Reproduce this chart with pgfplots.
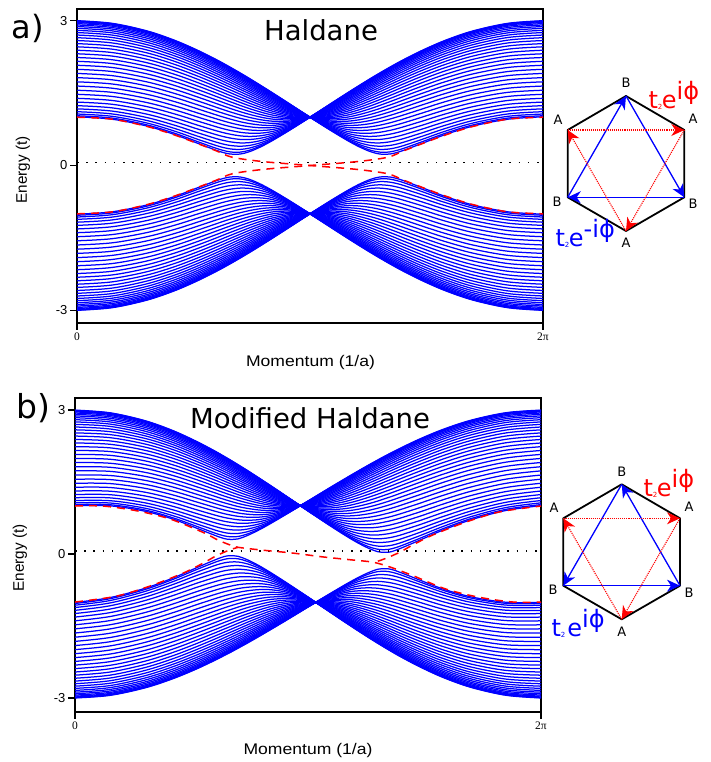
\documentclass[border=0pt]{standalone}
\usepackage{pgfplots}
\pgfplotsset{compat=1.18}
\usepackage{pgfplotstable}
\usepackage{fontspec}
\usetikzlibrary{arrows.meta}
\setmainfont{DejaVu Sans}
\newfontfamily\ser{Liberation Serif}
\newfontfamily\lib{Liberation Sans}
% Panel a: upper band, left half (x in units of pi, one column per line)
\pgfplotstableread{
0 2.998 2.990 2.977 2.960 2.937 2.909 2.877 2.840 2.798 2.752 2.701 2.646 2.587 2.523 2.457 2.386 2.313 2.236 2.157 2.075 1.991 1.906 1.819 1.732 1.645 1.558 1.474 1.391 1.313 1.239 1.173 1.114 1.066 1.030 1.008
0.15 2.944 2.937 2.924 2.907 2.885 2.857 2.825 2.788 2.747 2.701 2.651 2.596 2.538 2.475 2.409 2.339 2.266 2.190 2.111 2.030 1.946 1.861 1.775 1.688 1.601 1.515 1.430 1.347 1.268 1.194 1.127 1.068 1.019 .982 .959
0.3 2.787 2.780 2.767 2.751 2.729 2.702 2.672 2.636 2.596 2.551 2.502 2.449 2.392 2.332 2.267 2.199 2.128 2.054 1.976 1.897 1.815 1.731 1.647 1.560 1.474 1.388 1.303 1.219 1.139 1.063 .993 .932 .880 .841 .817
0.42 2.590 2.583 2.571 2.555 2.534 2.509 2.479 2.445 2.407 2.364 2.317 2.267 2.212 2.154 2.092 2.026 1.958 1.886 1.811 1.734 1.655 1.574 1.490 1.406 1.321 1.235 1.150 1.066 .984 .906 .832 .766 .710 .666 .639
0.52 2.380 2.373 2.362 2.347 2.327 2.304 2.276 2.243 2.207 2.167 2.123 2.075 2.023 1.968 1.909 1.847 1.782 1.713 1.642 1.569 1.492 1.414 1.334 1.252 1.168 1.084 1.000 .916 .832 .752 .675 .603 .539 .490 .456
0.6 2.187 2.180 2.170 2.156 2.138 2.115 2.089 2.059 2.025 1.987 1.946 1.901 1.853 1.801 1.746 1.687 1.626 1.562 1.495 1.425 1.353 1.279 1.202 1.124 1.044 .963 .881 .799 .716 .635 .555 .480 .410 .352 .311
0.64 2.082 2.076 2.066 2.053 2.035 2.014 1.989 1.960 1.927 1.891 1.851 1.809 1.762 1.712 1.660 1.603 1.545 1.483 1.418 1.352 1.282 1.211 1.137 1.062 .985 .906 .827 .746 .666 .586 .507 .430 .359 .298 .253
0.6667 2.010 2.004 1.995 1.981 1.965 1.944 1.920 1.892 1.860 1.826 1.787 1.746 1.701 1.653 1.602 1.547 1.490 1.431 1.369 1.304 1.237 1.167 1.096 1.023 .949 .872 .796 .718 .640 .561 .484 .410 .339 .277 .235
0.7 1.917 1.911 1.902 1.890 1.874 1.854 1.831 1.804 1.775 1.741 1.705 1.665 1.622 1.577 1.528 1.476 1.422 1.366 1.307 1.245 1.181 1.115 1.048 .978 .907 .835 .762 .688 .614 .540 .468 .399 .333 .277 .237
0.74 1.802 1.797 1.788 1.777 1.762 1.743 1.722 1.697 1.669 1.639 1.605 1.568 1.528 1.486 1.440 1.393 1.342 1.290 1.235 1.178 1.119 1.059 .996 .933 .868 .802 .736 .669 .602 .538 .474 .415 .361 .316 .286
0.79 1.653 1.649 1.642 1.631 1.618 1.602 1.583 1.561 1.536 1.509 1.479 1.446 1.411 1.373 1.333 1.292 1.247 1.201 1.153 1.104 1.053 1.000 .946 .892 .837 .781 .726 .671 .617 .567 .518 .474 .437 .409 .390
0.84 1.501 1.497 1.491 1.482 1.471 1.457 1.441 1.422 1.402 1.379 1.354 1.326 1.297 1.265 1.232 1.197 1.161 1.123 1.084 1.043 1.001 .960 .917 .874 .831 .788 .746 .706 .668 .632 .599 .571 .548 .530 .520
0.9 1.315 1.311 1.307 1.301 1.293 1.283 1.272 1.259 1.244 1.227 1.210 1.190 1.170 1.148 1.125 1.101 1.077 1.051 1.024 .997 .971 .943 .916 .889 .863 .838 .813 .790 .769 .750 .733 .718 .706 .699 .693
0.95 1.157 1.156 1.153 1.150 1.145 1.140 1.133 1.126 1.118 1.108 1.099 1.088 1.077 1.065 1.053 1.040 1.027 1.013 1.000 .986 .972 .959 .946 .933 .920 .908 .897 .887 .877 .869 .861 .855 .850 .847 .845
1 1 1 1 1 1 1 1 1 1 1 1 1 1 1 1 1 1 1 1 1 1 1 1 1 1 1 1 1 1 1 1 1 1 1 1
}\ta
% Panel b: upper band, left half
\pgfplotstableread{
0 2.998 2.990 2.977 2.960 2.937 2.909 2.877 2.840 2.798 2.752 2.701 2.646 2.587 2.523 2.457 2.386 2.313 2.236 2.157 2.075 1.991 1.906 1.819 1.732 1.645 1.558 1.474 1.391 1.313 1.239 1.173 1.114 1.066 1.030 1.008
0.15 2.942 2.936 2.923 2.907 2.886 2.859 2.828 2.792 2.752 2.707 2.659 2.605 2.549 2.488 2.424 2.356 2.286 2.212 2.135 2.056 1.974 1.891 1.807 1.722 1.636 1.551 1.468 1.386 1.309 1.236 1.170 1.111 1.063 1.027 1.004
0.3 2.778 2.772 2.759 2.745 2.724 2.699 2.671 2.638 2.601 2.559 2.512 2.463 2.409 2.353 2.292 2.228 2.161 2.091 2.016 1.941 1.863 1.783 1.702 1.619 1.535 1.452 1.369 1.288 1.210 1.135 1.067 1.007 .955 .917 .892
0.42 2.571 2.565 2.554 2.539 2.521 2.498 2.471 2.441 2.406 2.367 2.324 2.279 2.229 2.176 2.118 2.057 1.995 1.927 1.858 1.785 1.712 1.636 1.556 1.477 1.396 1.313 1.231 1.150 1.071 .994 .921 .855 .799 .755 .728
0.52 2.349 2.343 2.334 2.321 2.303 2.283 2.258 2.229 2.197 2.162 2.123 2.080 2.034 1.985 1.932 1.876 1.817 1.755 1.689 1.623 1.552 1.480 1.405 1.328 1.248 1.169 1.087 1.007 .925 .846 .770 .697 .632 .581 .543
0.6 2.146 2.140 2.131 2.119 2.104 2.085 2.062 2.036 2.007 1.974 1.939 1.900 1.859 1.813 1.765 1.713 1.659 1.602 1.542 1.478 1.413 1.345 1.275 1.202 1.127 1.051 .972 .893 .812 .732 .652 .575 .501 .437 .390
0.64 2.035 2.030 2.021 2.011 1.995 1.978 1.956 1.932 1.904 1.874 1.840 1.804 1.764 1.720 1.675 1.626 1.575 1.520 1.463 1.403 1.341 1.276 1.208 1.139 1.068 .994 .918 .841 .762 .683 .604 .525 .448 .379 .322
0.6667 1.959 1.954 1.947 1.934 1.921 1.904 1.884 1.861 1.834 1.806 1.773 1.739 1.700 1.659 1.616 1.568 1.518 1.467 1.413 1.355 1.295 1.232 1.167 1.100 1.032 .960 .889 .813 .738 .661 .583 .507 .430 .360 .305
0.7 1.861 1.856 1.849 1.839 1.826 1.810 1.791 1.769 1.746 1.716 1.687 1.654 1.618 1.580 1.539 1.494 1.448 1.400 1.348 1.294 1.237 1.179 1.118 1.054 .989 .923 .855 .785 .713 .641 .569 .498 .429 .365 .316
0.74 1.740 1.736 1.729 1.720 1.708 1.693 1.677 1.657 1.633 1.609 1.582 1.552 1.519 1.485 1.447 1.407 1.365 1.321 1.274 1.224 1.174 1.122 1.065 1.010 .951 .890 .829 .767 .703 .642 .579 .520 .465 .418 .386
0.79 1.583 1.580 1.575 1.566 1.557 1.545 1.530 1.513 1.494 1.474 1.450 1.425 1.396 1.366 1.334 1.302 1.265 1.228 1.189 1.148 1.104 1.060 1.012 .966 .917 .868 .818 .768 .718 .672 .626 .584 .549 .521 .503
0.84 1.423 1.420 1.416 1.409 1.402 1.392 1.381 1.367 1.353 1.336 1.318 1.298 1.276 1.253 1.228 1.202 1.173 1.144 1.114 1.082 1.048 1.016 .980 .944 .909 .873 .837 .802 .770 .738 .709 .684 .663 .647 .637
0.9 1.228 1.225 1.223 1.220 1.215 1.209 1.203 1.195 1.186 1.176 1.166 1.154 1.142 1.128 1.113 1.098 1.083 1.065 1.047 1.029 1.012 .992 .974 .955 .936 .918 .900 .883 .867 .853 .840 .829 .819 .814 .809
0.95 1.062 1.062 1.061 1.061 1.059 1.058 1.056 1.055 1.053 1.049 1.048 1.044 1.041 1.038 1.034 1.030 1.026 1.021 1.017 1.012 1.007 1.003 .998 .993 .988 .983 .978 .975 .970 .967 .963 .961 .958 .957 .956
1 .896 .898 .900 .902 .906 .910 .915 .920 .926 .933 .940 .948 .956 .964 .973 .982 .991 1 1.009 1.018 1.027 1.036 1.044 1.052 1.060 1.067 1.074 1.080 1.085 1.090 1.094 1.098 1.100 1.102 1.104
}\tbl
% Panel b: upper band, right half
\pgfplotstableread{
2 2.998 2.990 2.977 2.960 2.937 2.909 2.877 2.840 2.798 2.752 2.701 2.646 2.587 2.523 2.457 2.386 2.313 2.236 2.157 2.075 1.991 1.906 1.819 1.732 1.645 1.558 1.474 1.391 1.313 1.239 1.173 1.114 1.066 1.030 1.008
1.85 2.944 2.936 2.923 2.905 2.882 2.853 2.820 2.782 2.740 2.691 2.639 2.583 2.523 2.458 2.390 2.318 2.242 2.164 2.083 2.000 1.914 1.827 1.739 1.650 1.560 1.473 1.386 1.302 1.221 1.146 1.078 1.019 .969 .931 .908
1.7 2.788 2.780 2.767 2.749 2.726 2.697 2.665 2.626 2.583 2.535 2.482 2.425 2.365 2.301 2.232 2.160 2.085 2.007 1.924 1.841 1.755 1.667 1.578 1.487 1.397 1.308 1.219 1.132 1.048 .969 .897 .833 .779 .739 .714
1.58 2.597 2.589 2.576 2.559 2.535 2.508 2.475 2.437 2.396 2.347 2.296 2.241 2.181 2.118 2.050 1.979 1.905 1.827 1.746 1.663 1.578 1.492 1.402 1.313 1.222 1.131 1.041 .952 .865 .782 .705 .635 .575 .529 .500
1.48 2.397 2.389 2.376 2.359 2.337 2.311 2.278 2.241 2.201 2.156 2.107 2.052 1.994 1.933 1.868 1.798 1.727 1.651 1.573 1.493 1.408 1.324 1.237 1.148 1.058 .967 .877 .787 .697 .612 .528 .451 .382 .327 .289
1.4 2.214 2.206 2.195 2.179 2.158 2.131 2.100 2.066 2.027 1.984 1.937 1.886 1.831 1.771 1.709 1.643 1.575 1.502 1.428 1.350 1.271 1.189 1.105 1.018 .931 .843 .754 .665 .576 .488 .400 .317 .239 .173 .124
1.36 2.115 2.108 2.097 2.081 2.061 2.036 2.006 1.972 1.934 1.892 1.846 1.798 1.744 1.686 1.627 1.562 1.497 1.426 1.353 1.279 1.201 1.122 1.040 .957 .872 .786 .700 .613 .524 .437 .350 .265 .184 .111 .052
1.3333 2.049 2.042 2.031 2.014 1.995 1.970 1.942 1.909 1.872 1.832 1.787 1.739 1.686 1.631 1.572 1.510 1.444 1.377 1.307 1.233 1.159 1.080 1.001 .920 .838 .754 .671 .585 .500 .415 .329 .247 .166 .092 .035
1.3 1.961 1.954 1.943 1.929 1.910 1.886 1.859 1.827 1.792 1.752 1.709 1.662 1.612 1.560 1.503 1.442 1.380 1.316 1.248 1.178 1.105 1.031 .956 .878 .799 .719 .639 .559 .477 .397 .317 .240 .165 .099 .048
1.26 1.854 1.848 1.837 1.824 1.806 1.783 1.757 1.727 1.693 1.657 1.616 1.572 1.525 1.475 1.421 1.365 1.305 1.245 1.182 1.116 1.048 .980 .909 .838 .765 .692 .619 .545 .471 .400 .331 .264 .205 .154 .120
1.21 1.715 1.710 1.701 1.688 1.671 1.651 1.628 1.601 1.570 1.536 1.500 1.459 1.416 1.370 1.322 1.272 1.219 1.164 1.107 1.050 .990 .928 .866 .804 .741 .678 .616 .554 .494 .438 .384 .336 .295 .263 .243
1.16 1.573 1.568 1.560 1.549 1.534 1.516 1.495 1.471 1.445 1.416 1.384 1.348 1.312 1.271 1.230 1.186 1.141 1.094 1.046 .996 .946 .896 .844 .794 .743 .693 .645 .598 .554 .514 .477 .444 .419 .399 .387
1.1 1.400 1.395 1.389 1.380 1.369 1.355 1.339 1.321 1.300 1.276 1.252 1.224 1.196 1.166 1.135 1.102 1.069 1.033 .997 .961 .926 .890 .854 .819 .786 .754 .722 .693 .667 .643 .622 .603 .589 .580 .573
1.05 1.252 1.250 1.245 1.239 1.231 1.222 1.210 1.197 1.183 1.167 1.150 1.132 1.113 1.092 1.072 1.050 1.028 1.005 .983 .960 .937 .915 .894 .873 .852 .833 .816 .799 .784 .771 .759 .749 .742 .737 .734
1 1.104 1.102 1.100 1.098 1.094 1.090 1.085 1.080 1.074 1.067 1.060 1.052 1.044 1.036 1.027 1.018 1.009 1 .991 .982 .973 .964 .956 .948 .940 .933 .926 .920 .915 .910 .906 .902 .900 .898 .896
}\tbr
\definecolor{bl}{rgb}{0,0,1}
\pgfplotsset{panel/.style={scale only axis,width=466pt,height=314pt,xmin=0,xmax=2,ymin=-3.26,ymax=3.24,
 xtick={0,2},xticklabels={{\ser 0},{\ser 2π}},ytick={-3,0,3},yticklabels={{\lib -3},{\lib 0},{\lib 3}},
 xtick pos=bottom,ytick pos=left,tick align=outside,major tick length=7pt,
 axis line style={line width=1.2pt},every tick/.style={line width=1.2pt,black},
 xticklabel style={font=\fontsize{11.5}{12}\selectfont,yshift=1pt},
 yticklabel style={font=\fontsize{13}{13}\selectfont,xshift=1pt},
 blu/.style={line width=1.25pt,color=bl,smooth,tension=.55},
 edge/.style={red,line width=1.5pt,dash pattern=on 8pt off 6pt,smooth,tension=.5},
 dots/.style={black,line width=1.6pt,dash pattern=on 1.6pt off 7.6pt}}}
\tikzset{hexa/.style={line width=1.8pt,black,line join=round},
 bt/.style={line width=1.3pt,bl,-{Stealth[length=13pt,width=12pt,inset=4pt]}},
 rd/.style={line width=1.1pt,red,densely dotted,-{Stealth[length=13pt,width=12pt,inset=4pt]}},
 lb/.style={font=\fontsize{13}{13}\selectfont,black}}
\begin{document}
\begin{tikzpicture}[x=1pt,y=1pt]
\path[use as bounding box] (0,0) rectangle (711,762);
\begin{axis}[panel,at={(77pt,439pt)},anchor=south west]
\pgfplotsinvokeforeach{1,...,35}{
\addplot[blu] table[x index=0,y index=#1]{\ta};
\addplot[blu] table[x expr=2-\thisrowno{0},y index=#1]{\ta};
\addplot[blu] table[x index=0,y expr=-\thisrowno{#1}]{\ta};
\addplot[blu] table[x expr=2-\thisrowno{0},y expr=-\thisrowno{#1}]{\ta};
}
\addplot[dots] coordinates {(0,.06) (2,.06)};
\addplot[edge] coordinates {(0,1.0)(.15,.96)(.3,.81)(.42,.63)(.52,.45)(.6,.30)(.667,.17)(.8,.08)(1,0)(1.2,-.08)(1.333,-.17)(1.4,-.30)(1.48,-.45)(1.58,-.63)(1.7,-.81)(1.85,-.96)(2,-1)};
\addplot[edge] coordinates {(0,-1.0)(.15,-.96)(.3,-.81)(.42,-.63)(.52,-.45)(.6,-.30)(.667,-.17)(.8,-.08)(1,0)(1.2,.08)(1.333,.17)(1.4,.30)(1.48,.45)(1.58,.63)(1.7,.81)(1.85,.96)(2,1)};
\end{axis}
\begin{axis}[panel,at={(75pt,50pt)},anchor=south west,ymin=-3.29,ymax=3.25]
\pgfplotsinvokeforeach{1,...,35}{
\addplot[blu] table[x index=0,y index=#1]{\tbl};
\addplot[blu] table[x index=0,y index=#1]{\tbr};
\addplot[blu] table[x expr=2-\thisrowno{0},y expr=-\thisrowno{#1}]{\tbl};
\addplot[blu] table[x expr=2-\thisrowno{0},y expr=-\thisrowno{#1}]{\tbr};
}
\addplot[dots] coordinates {(0,.065) (2,.065)};
\addplot[edge] coordinates {(0,1.0)(.12,1.0)(.266,.9)(.408,.73)(.55,.45)(.614,.29)(.665,.19)(.70,.14)(.807,.08)(.935,.02)(1.064,-.06)(1.193,-.125)(1.279,-.17)(1.352,-.27)(1.45,-.45)(1.592,-.73)(1.734,-.90)(1.88,-1.0)(2,-1.0)};
\addplot[edge] coordinates {(0,-1)(.176,-.88)(.32,-.67)(.463,-.40)(.55,-.19)(.605,-.04)(.661,.08)(.70,.14)};
\addplot[edge] coordinates {(1.30,-.15)(1.339,-.08)(1.395,.04)(1.45,.19)(1.537,.40)(1.68,.67)(1.824,.88)(2,1)};
\end{axis}
% outer labels
\node[font=\lib\fontsize{15.4}{16}\selectfont] at (310.5,399) {\scalebox{1.14}[1]{Momentum (1/a)}};
\node[font=\lib\fontsize{15.4}{16}\selectfont] at (308,11) {\scalebox{1.14}[1]{Momentum (1/a)}};
\node[font=\lib\fontsize{15.3}{16}\selectfont,rotate=90] at (23,592) {Energy (t)};
\node[font=\lib\fontsize{15.3}{16}\selectfont,rotate=90] at (20,204) {Energy (t)};
\node[font=\fontsize{27.5}{28}\selectfont] at (321,732) {Haldane};
\node[font=\fontsize{27.5}{28}\selectfont] at (310,344) {Modified Haldane};
\node[font=\fontsize{32}{32}\selectfont] at (28,734) {a)};
\node[font=\fontsize{33}{33}\selectfont] at (33,354) {b)};
% hexagon a
\draw[hexa] (626,666)--(684.3,632)--(684.3,564.7)--(626,531)--(567.7,564.7)--(567.7,632)--cycle;
\draw[bt] (626,666)--(684.3,564.7);
\draw[bt] (684.3,564.7)--(567.7,564.7);
\draw[bt] (567.7,564.7)--(626,666);
\draw[rd] (567.7,632)--(684.3,632);
\draw[rd] (684.3,632)--(626,531);
\draw[rd] (626,531)--(567.7,632);
\node[lb] at (626,679) {B};\node[lb] at (693,643) {A};\node[lb] at (558,642) {A};
\node[lb] at (693,558) {B};\node[lb] at (557,560) {B};\node[lb] at (626,519) {A};
\node[red,anchor=base west] at (645,653) {\fontsize{24}{24}\selectfont t\raisebox{-1pt}{\fontsize{7}{7}\selectfont 2}\hspace{-.5pt}e\raisebox{9pt}{\fontsize{24}{24}\selectfont iϕ}};
\node[bl,anchor=base west] at (552,515) {\fontsize{24}{24}\selectfont t\raisebox{-1pt}{\fontsize{7}{7}\selectfont 2}\hspace{-.5pt}e\raisebox{9pt}{\fontsize{24}{24}\selectfont -iϕ}};
% hexagon b
\draw[hexa] (621.7,277.7)--(680,243.7)--(680,176.3)--(621.7,142.7)--(563.3,176.3)--(563.3,243.7)--cycle;
\draw[bt] (621.7,277.7)--(563.3,176.3);
\draw[bt] (563.3,176.3)--(680,176.3);
\draw[bt] (680,176.3)--(621.7,277.7);
\draw[rd] (563.3,243.7)--(680,243.7);
\draw[rd] (680,243.7)--(621.7,142.7);
\draw[rd] (621.7,142.7)--(563.3,243.7);
\node[lb] at (621.7,290) {B};\node[lb] at (689,255) {A};\node[lb] at (554,254) {A};
\node[lb] at (689,169) {B};\node[lb] at (553,172) {B};\node[lb] at (621.7,130) {A};
\node[red,anchor=base west] at (640,265) {\fontsize{24}{24}\selectfont t\raisebox{-1pt}{\fontsize{7}{7}\selectfont 2}\hspace{-.5pt}e\raisebox{9pt}{\fontsize{24}{24}\selectfont iϕ}};
\node[bl,anchor=base west] at (548,125) {\fontsize{24}{24}\selectfont t\raisebox{-1pt}{\fontsize{7}{7}\selectfont 2}\hspace{2pt}e\raisebox{9pt}{\fontsize{24}{24}\selectfont iϕ}};
\end{tikzpicture}
\end{document}
